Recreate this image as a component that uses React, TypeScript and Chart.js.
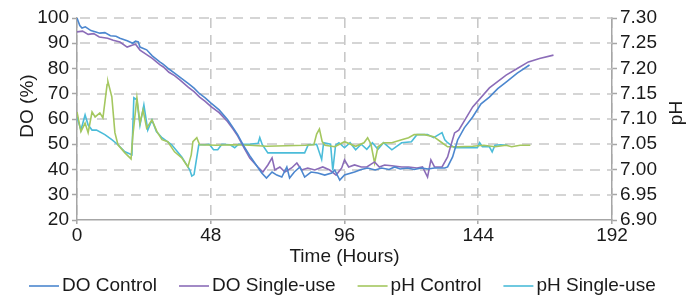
import React, { useEffect, useRef } from 'react';
import { Chart, registerables } from 'chart.js';

Chart.register(...registerables);

// ---------- Data ----------
const xTickValues = [0, 48, 96, 144, 192];
const xAxisTitle = 'Time (Hours)';
const leftAxisTitle = 'DO (%)';
const rightAxisTitle = 'pH';
const seriesLabels = ['DO Control', 'DO Single-use', 'pH Control', 'pH Single-use'];

const doControlTime = [0, 1, 1.8, 3, 5, 8.2, 10, 12, 14, 15.4, 18, 20, 21, 22, 22.6, 25, 27, 29.7, 31, 33, 35, 36.9, 40, 42, 44, 46, 48, 51, 54, 56, 57.7, 60, 62, 63.8, 66.3, 68, 70, 71.7, 73.5, 75.3, 76.3, 78, 80, 81.7, 84, 86.4, 88.9, 91.4, 92.5, 94.3, 96, 99.6, 102, 104.3, 107, 109.3, 112, 114, 116, 118.6, 121, 123.7, 126, 128.3, 132, 133, 134.8, 136.6, 139, 142, 145, 148, 151, 154, 158, 162.4];
const doControlValue = [100, 97, 96, 96.5, 95, 94, 94.2, 93, 92.8, 92, 91, 90, 90.8, 90.5, 88.5, 87.4, 85, 82.6, 81.6, 79.8, 78.2, 76.6, 74, 72.2, 70, 68.4, 66.4, 63.6, 59.8, 56.6, 53.7, 49, 45.5, 42.6, 38.6, 36.6, 39, 37.8, 37, 41, 36.6, 39, 41, 37, 39, 38.6, 37.8, 38.6, 39.8, 35.8, 37.8, 39, 40, 40.6, 39.8, 40.6, 40, 41, 40.2, 40.6, 40, 40.6, 40.2, 40.6, 40.6, 41, 45, 51.7, 56.5, 60.8, 66, 68.7, 72, 74.6, 78.2, 81.4];

const doSingleTime = [0, 2, 4, 6, 8, 11, 13, 15.4, 18, 20, 21, 22.6, 25, 27, 29.7, 31, 33, 35, 36.9, 40, 42, 44, 46, 48, 51, 54, 56, 57.7, 60, 62, 64.9, 66.7, 68.5, 70, 71, 72.8, 74.6, 77, 78.9, 80.6, 82.8, 85.3, 88.2, 90.7, 93, 95, 96, 97.5, 99.6, 102, 104, 106.8, 108.5, 110.4, 113, 116.5, 119, 122, 124, 125.8, 127, 128.3, 131, 133, 133.7, 135.5, 137, 142, 148, 154, 158, 162, 166, 171];
const doSingleValue = [94.5, 94.8, 93.5, 93.8, 92.5, 92, 91.2, 90.5, 88.5, 89.3, 89.6, 87.3, 85.5, 84, 81.5, 80.6, 78.5, 77.2, 75.5, 72.5, 70.8, 68.7, 67, 65, 62.5, 59, 56, 53.2, 48.5, 44.5, 41, 39, 41.8, 44.6, 39.8, 41, 39, 40.6, 42.6, 39.8, 40.6, 39.8, 41, 39.8, 37.8, 40.6, 43.8, 41, 41.8, 41, 41, 43, 41, 41.8, 41.5, 41, 41, 40.6, 41, 37, 43.8, 41, 41, 45, 47.7, 54.5, 55.6, 64.8, 72.3, 77.4, 80, 82.6, 84, 85.3];

const phControlTime = [0, 1.4, 2.9, 4, 5.4, 6.5, 8.2, 9.3, 10.8, 11.1, 12.5, 13.6, 14.7, 17.2, 19.4, 20, 21.5, 22.6, 23.7, 25, 26.9, 28.7, 30.5, 32.6, 35, 37.6, 39.8, 41, 41.6, 43, 44, 50, 56, 62, 68, 75, 82, 85, 86, 87, 88, 89, 92.5, 96, 100, 103, 104.3, 105.5, 106.8, 108, 110, 113, 116.5, 119, 121, 124.7, 128, 131, 133, 137, 142, 146, 150, 154, 156, 159, 162.7];
const phControlValue = [7.114, 7.075, 7.092, 7.073, 7.114, 7.104, 7.112, 7.102, 7.168, 7.174, 7.144, 7.073, 7.049, 7.033, 7.021, 7.065, 7.142, 7.092, 7.118, 7.082, 7.098, 7.075, 7.059, 7.055, 7.035, 7.023, 7.005, 7.029, 7.055, 7.063, 7.049, 7.048, 7.049, 7.048, 7.046, 7.047, 7.048, 7.049, 7.07, 7.08, 7.055, 7.048, 7.045, 7.055, 7.046, 7.053, 7.063, 7.05, 7.013, 7.045, 7.053, 7.053, 7.059, 7.063, 7.069, 7.069, 7.065, 7.053, 7.045, 7.045, 7.046, 7.048, 7.045, 7.048, 7.045, 7.048, 7.048];

const phSingleTime = [0, 1.4, 2.9, 4, 5.4, 7, 10, 12.5, 14.7, 17.2, 19.7, 20.4, 21.5, 22.6, 24, 25.4, 26.9, 28.5, 30.5, 34, 37.6, 40.5, 41.2, 42, 43.7, 45.9, 47.5, 49, 50.5, 52, 55, 56.6, 58, 62, 65, 65.6, 66.5, 68.5, 75, 81.7, 83, 86, 87.8, 88.5, 91, 91.8, 92.8, 94, 96, 98, 100, 102, 104, 106, 108, 110, 113, 116.5, 120, 122, 125.8, 128, 131, 132, 133, 135.5, 143.7, 144.5, 145.5, 148, 149, 150, 152, 154.5];
const phSingleValue = [7.104, 7.078, 7.108, 7.088, 7.078, 7.078, 7.069, 7.059, 7.049, 7.035, 7.029, 7.142, 7.138, 7.088, 7.128, 7.078, 7.098, 7.075, 7.063, 7.049, 7.025, 6.999, 6.987, 6.99, 7.049, 7.049, 7.05, 7.039, 7.039, 7.05, 7.049, 7.043, 7.05, 7.05, 7.052, 7.063, 7.049, 7.033, 7.033, 7.033, 7.049, 7.05, 7.02, 7.053, 7.05, 6.998, 7.048, 7.053, 7.043, 7.053, 7.039, 7.05, 7.04, 7.053, 7.04, 7.053, 7.039, 7.053, 7.055, 7.069, 7.069, 7.063, 7.073, 7.059, 7.053, 7.043, 7.043, 7.053, 7.045, 7.045, 7.035, 7.048, 7.049, 7.048];

// ---------- Styles ----------
const FONT = '"Liberation Sans", Arial, Helvetica, sans-serif';
const TEXT = '#1a1a1a';
const GRID = '#c8c8c8';
const AXIS = '#a6a6a6';
const DASH_ON = 10;
const DASH_OFF = 7;
const COLORS = ['#4c87cf', '#8b6cb8', '#a4c75f', '#4bbcd9'];

const toPoints = (t: number[], v: number[]) => t.map((x, i) => ({ x, y: v[i] }));

// horizontal dashed grid lines at the left scale's ticks (dashes drawn as small rects)
const hGridPlugin = {
  id: 'hgrid',
  beforeDatasetsDraw(chart: any) {
    const { ctx, chartArea, scales } = chart;
    const ys = scales.y;
    ctx.save();
    ctx.fillStyle = GRID;
    ys.ticks.forEach((t: any) => {
      const py = Math.round(ys.getPixelForValue(t.value));
      if (!isFinite(py) || py > chartArea.bottom - 2) return;
      for (let x = chartArea.left + 3; x < chartArea.right; x += DASH_ON + DASH_OFF) {
        ctx.fillRect(x, py - 0.75, Math.min(DASH_ON, chartArea.right - x), 1.5);
      }
    });
    ctx.restore();
  },
};

const overlayPlugin = {
  id: 'overlay',
  afterDraw(chart: any) {
    const ctx = chart.ctx as CanvasRenderingContext2D;
    ctx.save();
    ctx.font = `19px ${FONT}`;
    ctx.fillStyle = TEXT;
    ctx.textBaseline = 'middle';
    ctx.save();
    ctx.translate(28, 106);
    ctx.rotate(-Math.PI / 2);
    ctx.textAlign = 'center';
    ctx.fillText(leftAxisTitle, 0, 0);
    ctx.restore();
    ctx.save();
    ctx.translate(677, 113);
    ctx.rotate(-Math.PI / 2);
    ctx.textAlign = 'center';
    ctx.fillText(rightAxisTitle, 0, 0);
    ctx.restore();
    const ly = 286;
    let x = 29;
    chart.data.datasets.forEach((ds: any) => {
      ctx.strokeStyle = ds.borderColor;
      ctx.lineWidth = 1.6;
      ctx.beginPath();
      ctx.moveTo(x, ly);
      ctx.lineTo(x + 30, ly);
      ctx.stroke();
      ctx.textAlign = 'left';
      ctx.fillText(ds.label, x + 33, ly);
      x += 33 + ctx.measureText(ds.label).width + 22;
    });
    ctx.restore();
  },
};

export default function App() {
  const ref = useRef<HTMLCanvasElement | null>(null);

  useEffect(() => {
    if (!ref.current) return;
    const tickFont = { family: FONT, size: 19 };
    const chart = new Chart(ref.current, {
      type: 'line',
      data: {
        datasets: [
          { label: seriesLabels[0], data: toPoints(doControlTime, doControlValue), borderColor: COLORS[0], yAxisID: 'y' },
          { label: seriesLabels[1], data: toPoints(doSingleTime, doSingleValue), borderColor: COLORS[1], yAxisID: 'y' },
          { label: seriesLabels[2], data: toPoints(phControlTime, phControlValue), borderColor: COLORS[2], yAxisID: 'y1' },
          { label: seriesLabels[3], data: toPoints(phSingleTime, phSingleValue), borderColor: COLORS[3], yAxisID: 'y1' },
        ].map((d) => ({ ...d, borderWidth: 1.6, pointRadius: 0, tension: 0, fill: false })),
      },
      options: {
        animation: false,
        responsive: false,
        layout: { padding: { top: 18, bottom: 28, left: 0, right: 0 } },
        plugins: { legend: { display: false }, tooltip: { enabled: false } },
        scales: {
          x: {
            type: 'linear',
            min: 0,
            max: 192,
            afterBuildTicks: (s: any) => { s.ticks = xTickValues.map((v) => ({ value: v })); },
            afterFit: (s: any) => { s.height = 48; },
            ticks: { font: tickFont, color: TEXT, padding: 0, maxRotation: 0, autoSkip: false },
            title: { display: true, text: xAxisTitle, font: tickFont, color: TEXT, padding: 0 },
            grid: { display: true, drawOnChartArea: true, color: GRID, lineWidth: 1.6, tickLength: 4, tickColor: AXIS, tickWidth: 1.5, tickBorderDash: [] },
            border: { display: true, color: AXIS, width: 1.5, dash: [DASH_ON, DASH_OFF] },
          },
          y: {
            type: 'linear',
            position: 'left',
            min: 20,
            max: 100,
            ticks: { stepSize: 10, font: tickFont, color: TEXT, padding: 3, autoSkip: false },
            afterFit: (s: any) => { s.width = 77; },
            grid: { display: true, drawOnChartArea: false, tickLength: 5, tickColor: AXIS, tickWidth: 1.5, tickBorderDash: [] },
            border: { display: true, color: AXIS, width: 1.5 },
          },
          y1: {
            type: 'linear',
            position: 'right',
            min: 6.9,
            max: 7.3,
            ticks: { stepSize: 0.05, font: tickFont, color: TEXT, padding: 3, autoSkip: false, callback: (v: any) => Number(v).toFixed(2) },
            afterFit: (s: any) => { s.width = 83; },
            grid: { display: true, drawOnChartArea: false, tickLength: 5, tickColor: AXIS, tickWidth: 1.5, tickBorderDash: [] },
            border: { display: true, color: AXIS, width: 1.5 },
          },
        },
      },
      plugins: [hGridPlugin, overlayPlugin],
    } as any);
    return () => chart.destroy();
  }, []);

  return (
    <div style={{ position: 'absolute', left: 0, top: 0, width: 695, height: 296, background: '#fff' }}>
      <canvas ref={ref} width={695} height={296} style={{ display: 'block' }} />
    </div>
  );
}
